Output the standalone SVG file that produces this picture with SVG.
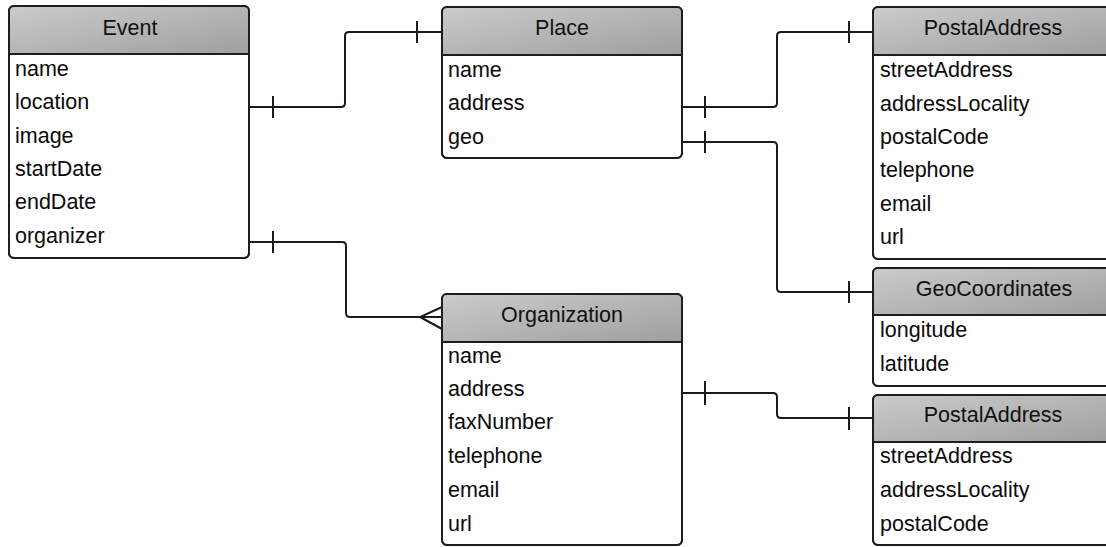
<svg xmlns="http://www.w3.org/2000/svg" width="1106" height="547" viewBox="0 0 1106 547">
<defs>
<linearGradient id="hdr" x1="0" y1="0" x2="1" y2="1">
<stop offset="0" stop-color="#cbcbcb"/>
<stop offset="1" stop-color="#9f9f9f"/>
</linearGradient>
<style>
.box{fill:#fff;stroke:#1e1e1e;stroke-width:2}
.frame{fill:none;stroke:#1e1e1e;stroke-width:2}
.hd{fill:url(#hdr)}
.sep{stroke:#1e1e1e;stroke-width:2}
.title{font-family:"Liberation Sans",Arial,sans-serif;font-size:21.5px;fill:#111;text-anchor:middle}
.row{font-family:"Liberation Sans",Arial,sans-serif;font-size:21.5px;fill:#0a0a0a}
.con{fill:none;stroke:#1a1a1a;stroke-width:2}
</style>
</defs>
<rect width="1106" height="547" fill="#fff"/>

<g id="connectors">
<path class="con" d="M249,107 H341 Q345,107 345,103 V36 Q345,32 349,32 H442"/>
<path class="con" d="M273,96 V118 M417,21 V43"/>
<path class="con" d="M249,242 H342 Q346,242 346,246 V313 Q346,317 350,317 H442"/>
<path class="con" d="M273,231 V253 M442,307 L420,317 L442,329"/>
<path class="con" d="M682,107 H773 Q777,107 777,103 V36 Q777,32 781,32 H873"/>
<path class="con" d="M705,96 V118 M849,21 V43"/>
<path class="con" d="M682,142 H773 Q777,142 777,146 V288 Q777,292 781,292 H873"/>
<path class="con" d="M705,131 V153 M849,281 V303"/>
<path class="con" d="M682,393 H773 Q777,393 777,397 V414 Q777,418 781,418 H873"/>
<path class="con" d="M705,381 V405 M849,407 V430"/>
</g>

<g id="event">
<rect class="box" x="9" y="6" width="240" height="252" rx="5"/>
<path class="hd" d="M9,54 V11 Q9,6 14,6 H244 Q249,6 249,11 V54 Z"/>
<line class="sep" x1="9" y1="54" x2="249" y2="54"/>
<rect class="frame" x="9" y="6" width="240" height="252" rx="5"/>
<text class="title" x="130" y="35">Event</text>
<text class="row" x="15" y="76">name</text>
<text class="row" x="15" y="109">location</text>
<text class="row" x="15" y="143">image</text>
<text class="row" x="15" y="176">startDate</text>
<text class="row" x="15" y="209">endDate</text>
<text class="row" x="15" y="243">organizer</text>
</g>

<g id="place">
<rect class="box" x="442" y="7" width="240" height="151" rx="5"/>
<path class="hd" d="M442,55 V12 Q442,7 447,7 H677 Q682,7 682,12 V55 Z"/>
<line class="sep" x1="442" y1="55" x2="682" y2="55"/>
<rect class="frame" x="442" y="7" width="240" height="151" rx="5"/>
<text class="title" x="562" y="35">Place</text>
<text class="row" x="448" y="77">name</text>
<text class="row" x="448" y="110">address</text>
<text class="row" x="448" y="144">geo</text>
</g>

<g id="postaladdress1">
<rect class="box" x="873" y="7" width="240" height="252" rx="5"/>
<path class="hd" d="M873,55 V12 Q873,7 878,7 H1108 Q1113,7 1113,12 V55 Z"/>
<line class="sep" x1="873" y1="55" x2="1113" y2="55"/>
<rect class="frame" x="873" y="7" width="240" height="252" rx="5"/>
<text class="title" x="993" y="35">PostalAddress</text>
<text class="row" x="880" y="77">streetAddress</text>
<text class="row" x="880" y="111">addressLocality</text>
<text class="row" x="880" y="144">postalCode</text>
<text class="row" x="880" y="177">telephone</text>
<text class="row" x="880" y="211">email</text>
<text class="row" x="880" y="244">url</text>
</g>

<g id="geocoordinates">
<rect class="box" x="873" y="268" width="240" height="118" rx="5"/>
<path class="hd" d="M873,315 V273 Q873,268 878,268 H1108 Q1113,268 1113,273 V315 Z"/>
<line class="sep" x1="873" y1="315" x2="1113" y2="315"/>
<rect class="frame" x="873" y="268" width="240" height="118" rx="5"/>
<text class="title" x="994" y="296">GeoCoordinates</text>
<text class="row" x="880" y="337">longitude</text>
<text class="row" x="880" y="371">latitude</text>
</g>

<g id="organization">
<rect class="box" x="442" y="294" width="240" height="251" rx="5"/>
<path class="hd" d="M442,342 V299 Q442,294 447,294 H677 Q682,294 682,299 V342 Z"/>
<line class="sep" x1="442" y1="342" x2="682" y2="342"/>
<rect class="frame" x="442" y="294" width="240" height="251" rx="5"/>
<text class="title" x="562" y="322">Organization</text>
<text class="row" x="448" y="363">name</text>
<text class="row" x="448" y="396">address</text>
<text class="row" x="448" y="429">faxNumber</text>
<text class="row" x="448" y="463">telephone</text>
<text class="row" x="448" y="497">email</text>
<text class="row" x="448" y="531">url</text>
</g>

<g id="postaladdress2">
<rect class="box" x="873" y="395" width="240" height="150" rx="5"/>
<path class="hd" d="M873,442 V400 Q873,395 878,395 H1108 Q1113,395 1113,400 V442 Z"/>
<line class="sep" x1="873" y1="442" x2="1113" y2="442"/>
<rect class="frame" x="873" y="395" width="240" height="150" rx="5"/>
<text class="title" x="993" y="422">PostalAddress</text>
<text class="row" x="880" y="463">streetAddress</text>
<text class="row" x="880" y="497">addressLocality</text>
<text class="row" x="880" y="531">postalCode</text>
</g>
</svg>
